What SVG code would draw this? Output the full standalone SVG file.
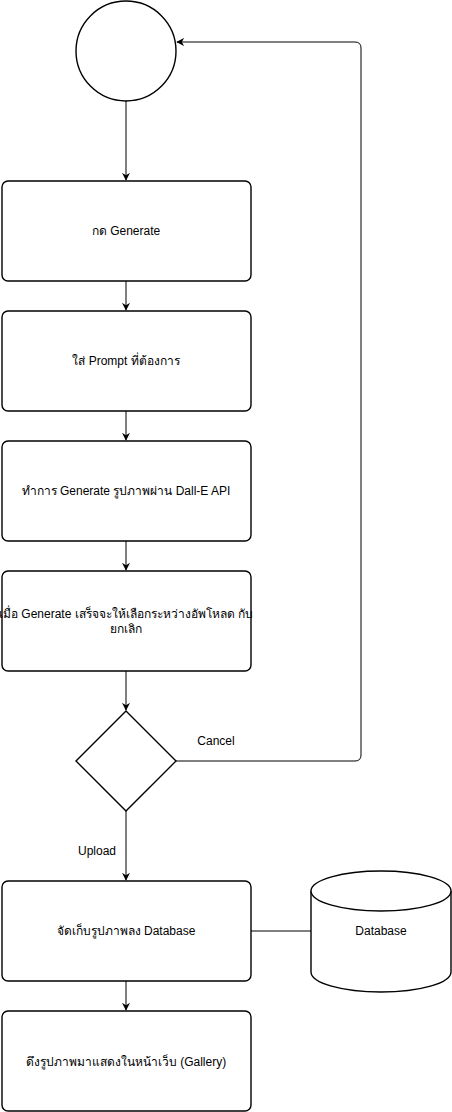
<svg xmlns="http://www.w3.org/2000/svg" width="452" height="1112" viewBox="0 0 452 1112">
<style>
.n{fill:#fff;stroke:#000;stroke-width:1.4}
.t{font-family:"Liberation Sans","Noto Sans",sans-serif;font-size:12px;fill:#000;text-anchor:middle}
.e{fill:none;stroke:#000;stroke-width:1}
</style>
<defs>
<marker id="a" viewBox="0 0 10 10" refX="9" refY="5" markerWidth="8" markerHeight="8" orient="auto" markerUnits="userSpaceOnUse">
<path d="M0,0 L10,5 L0,10 L3,5 Z" fill="#000"/>
</marker>
</defs>
<rect width="452" height="1112" fill="#fff"/>
<g id="edges">
<line class="e" x1="126" y1="101" x2="126" y2="180" marker-end="url(#a)"/>
<line class="e" x1="126" y1="281" x2="126" y2="310" marker-end="url(#a)"/>
<line class="e" x1="126" y1="411" x2="126" y2="440" marker-end="url(#a)"/>
<line class="e" x1="126" y1="541" x2="126" y2="570" marker-end="url(#a)"/>
<line class="e" x1="126" y1="671" x2="126" y2="710" marker-end="url(#a)"/>
<line class="e" x1="126" y1="811" x2="126" y2="880" marker-end="url(#a)"/>
<line class="e" x1="126" y1="981" x2="126" y2="1010" marker-end="url(#a)"/>
<path class="e" d="M176,761 H355 Q361,761 361,755 V48 Q361,42 355,42 H177" marker-end="url(#a)"/>
<line class="e" x1="251" y1="931" x2="311" y2="931"/>
<text class="t" x="216" y="745">Cancel</text>
<text class="t" x="97" y="855">Upload</text>
</g>
<g id="start"><circle class="n" cx="126" cy="51" r="50"/></g>
<g id="n1"><rect class="n" x="2" y="181" width="249" height="100" rx="6"/><text class="t" x="126" y="235">กด Generate</text></g>
<g id="n2"><rect class="n" x="2" y="311" width="249" height="100" rx="6"/><text class="t" x="126" y="365">ใส่ Prompt ที่ต้องการ</text></g>
<g id="n3"><rect class="n" x="2" y="441" width="249" height="100" rx="6"/><text class="t" x="126" y="495">ทำการ Generate รูปภาพผ่าน Dall-E API</text></g>
<g id="n4"><rect class="n" x="2" y="571" width="249" height="100" rx="6"/><text class="t" x="126" y="618">เมื่อ Generate เสร็จจะให้เลือกระหว่างอัพโหลด กับ</text><text class="t" x="126" y="633">ยกเลิก</text></g>
<g id="decision"><path class="n" d="M126,711 L176,761 L126,811 L76,761 Z"/></g>
<g id="n5"><rect class="n" x="2" y="881" width="249" height="100" rx="6"/><text class="t" x="126" y="935">จัดเก็บรูปภาพลง Database</text></g>
<g id="n6"><rect class="n" x="2" y="1011" width="249" height="100" rx="6"/><text class="t" x="126" y="1066">ดึงรูปภาพมาแสดงในหน้าเว็บ (Gallery)</text></g>
<g id="db">
<path class="n" d="M311,891 A70,20 0 0 1 451,891 V972 A70,20 0 0 1 311,972 Z"/>
<path class="n" d="M311,891 A70,20 0 0 0 451,891" fill="none"/>
<text class="t" x="381" y="935">Database</text>
</g>
</svg>
